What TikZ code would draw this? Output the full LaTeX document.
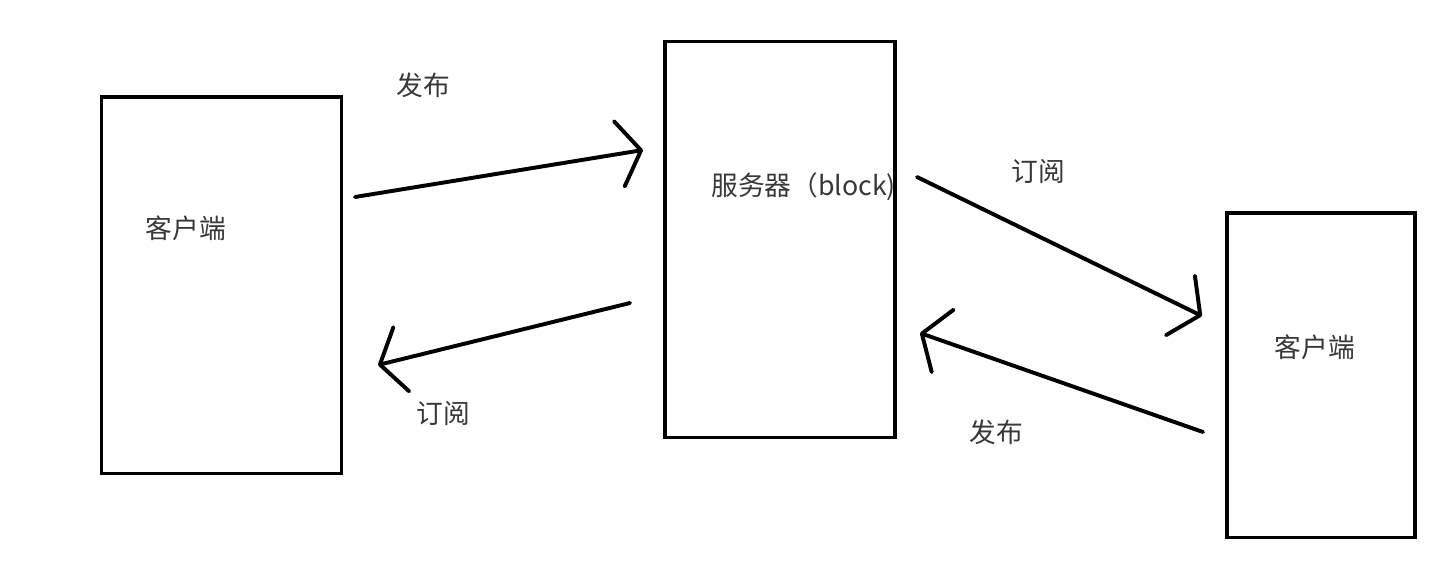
\documentclass[tikz,border=0pt]{standalone}
\usepackage{fontspec}
\newfontfamily\cjk{Noto Sans CJK SC}
\usepackage{tikz}
\usetikzlibrary{arrows.meta,positioning}

\begin{document}
\begin{tikzpicture}[x=0.025cm,y=-0.025cm,
  box/.style={draw,line width=2.2pt,rectangle,inner sep=0pt},
  lbl/.style={text=black!78,font=\cjk\fontsize{19}{21}\selectfont,inner sep=0pt},
  flow/.style={line width=2.8pt,line cap=round,-{Straight Barb[length=0.55cm,width=1.65cm,line width=2.8pt,round]}}]
\useasboundingbox (0,0) rectangle (1448,586);

% clients and server
\node[box,minimum width=6cm,minimum height=9.4cm] (clientL) at (221.5,285) {};
\node[box,minimum width=5.75cm,minimum height=9.875cm] (server) at (780,239.5) {};
\node[box,minimum width=4.7cm,minimum height=8.1cm] (clientR) at (1321,375) {};

\node[lbl] (clientLtxt) at (186,228) {客户端};
\node[lbl,anchor=west] (servertxt) at (711,187) {服务器（block)};
\node[lbl] (clientRtxt) at (1315,347) {客户端};

% arrow ends
\coordinate (pubLs) at (355,197);
\coordinate (pubLe) at (643,150);
\coordinate (subLs) at (630,303);
\coordinate (subLe) at (378,365);
\coordinate (subRs) at (917,177);
\coordinate (subRe) at (1202,316);
\coordinate (pubRs) at (1203,432);
\coordinate (pubRe) at (920,333);

\draw[flow] (pubLs) -- (pubLe);
\draw[flow] (subLs) -- (subLe);
\draw[flow] (subRs) -- (subRe);
\draw[flow] (pubRs) -- (pubRe);

\node[lbl] (pubLtxt) at (423,85) {发布};
\node[lbl] (subLtxt) at (443,414) {订阅};
\node[lbl] (subRtxt) at (1038,172) {订阅};
\node[lbl] (pubRtxt) at (996,432) {发布};
\end{tikzpicture}
\end{document}
